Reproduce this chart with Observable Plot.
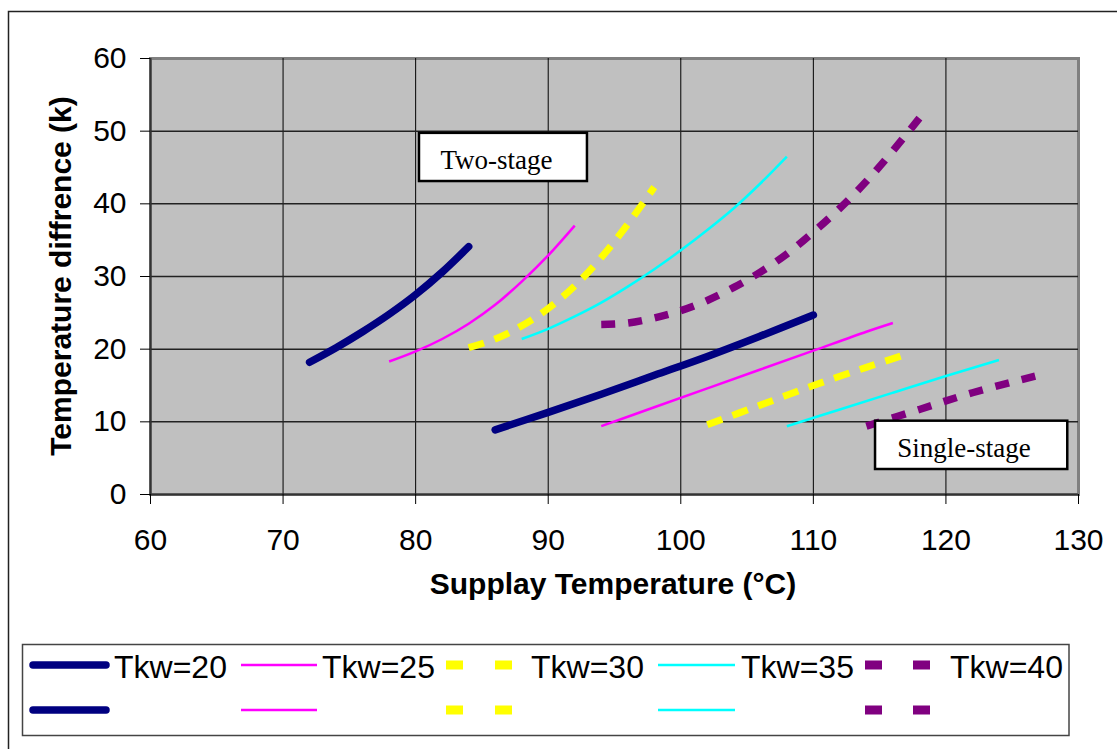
<!DOCTYPE html>
<html><head><meta charset="utf-8">
<script src="https://cdn.jsdelivr.net/npm/d3@7"></script>
<script src="https://cdn.jsdelivr.net/npm/@observablehq/plot@0.6"></script>
<style>
html,body{margin:0;padding:0;background:#fff;}
#wrap{position:relative;width:1117px;height:749px;overflow:hidden;background:#fff;}
#chart{position:absolute;left:0;top:0;}
#overlay{position:absolute;left:0;top:0;}
</style></head>
<body><div id="wrap"><div id="chart"></div><svg id="overlay" width="1117" height="749"></svg></div>
<script>
// ---- data ----
const xTicks = [60, 70, 80, 90, 100, 110, 120, 130];
const yTicks = [0, 10, 20, 30, 40, 50, 60];
const seriesNames = ["Tkw=20", "Tkw=25", "Tkw=30", "Tkw=35", "Tkw=40"];
const stageLabels = ["Two-stage", "Single-stage"];
const xTitle = "Supplay Temperature (°C)";
const yTitle = "Temperature diffrence (k)";

// Two-stage curves
const twoT20x = [72, 74, 76, 78, 80, 82, 84];
const twoT20y = [18.2, 20.2, 22.4, 24.8, 27.5, 30.6, 34.1];
const twoT25x = [78, 80, 82, 84, 86, 88, 90, 92];
const twoT25y = [18.3, 19.7, 21.4, 23.5, 26.1, 29.3, 32.9, 37.0];
const twoT30x = [84, 86, 88, 90, 92, 94, 96, 98];
const twoT30y = [20.2, 21.4, 23.2, 25.6, 28.7, 32.6, 37.2, 42.3];
const twoT35x = [88, 90, 92, 94, 96, 98, 100, 102, 104, 106, 108];
const twoT35y = [21.4, 22.8, 24.5, 26.4, 28.6, 31.0, 33.6, 36.4, 39.4, 42.8, 46.5];
const twoT40x = [94, 96, 98, 100, 102, 104, 106, 108, 110, 112, 114, 116, 118];
const twoT40y = [23.4, 23.6, 24.3, 25.3, 26.7, 28.5, 30.6, 33.1, 36.1, 39.4, 43.1, 47.3, 51.8];

// Single-stage curves
const oneT20x = [86, 90, 94, 98, 102, 106, 110];
const oneT20y = [8.9, 11.3, 13.8, 16.4, 19.0, 21.8, 24.7];
const oneT25x = [94, 98, 102, 106, 110, 114, 116];
const oneT25y = [9.4, 12.0, 14.6, 17.2, 19.8, 22.4, 23.6];
const oneT30x = [102, 106, 110, 114, 117];
const oneT30y = [9.6, 12.3, 15.0, 17.5, 19.3];
const oneT35x = [108, 112, 116, 120, 124];
const oneT35y = [9.4, 11.7, 14.0, 16.3, 18.5];
const oneT40x = [114, 118, 122, 127];
const oneT40y = [9.4, 11.7, 14.0, 16.4];

// ---- styles (kept apart from data) ----
const styles = {
  "Tkw=20": {color: "#000080", width: 7.5, dash: null, cap: "round"},
  "Tkw=25": {color: "#FF00FF", width: 2.5, dash: null, cap: "butt"},
  "Tkw=30": {color: "#FFFF00", width: 7, dash: "16,11", cap: "butt"},
  "Tkw=35": {color: "#00FFFF", width: 2.5, dash: null, cap: "butt"},
  "Tkw=40": {color: "#800080", width: 7.5, dash: "14,13", cap: "butt"}
};

const rows = [];
function add(series, stage, xs, ys) { xs.forEach((x, i) => rows.push({series, stage, x, y: ys[i]})); }
add("Tkw=20", "two", twoT20x, twoT20y);
add("Tkw=25", "two", twoT25x, twoT25y);
add("Tkw=30", "two", twoT30x, twoT30y);
add("Tkw=35", "two", twoT35x, twoT35y);
add("Tkw=40", "two", twoT40x, twoT40y);
add("Tkw=20", "one", oneT20x, oneT20y);
add("Tkw=25", "one", oneT25x, oneT25y);
add("Tkw=30", "one", oneT30x, oneT30y);
add("Tkw=35", "one", oneT35x, oneT35y);
add("Tkw=40", "one", oneT40x, oneT40y);

const lineMarks = seriesNames.map(name => {
  const s = styles[name];
  return Plot.line(rows.filter(d => d.series === name), {
    x: "x", y: "y", z: "stage", stroke: s.color, strokeWidth: s.width,
    strokeDasharray: s.dash, strokeLinecap: s.cap, strokeLinejoin: "round", curve: "catmull-rom"
  });
});

const boxes = [
  {label: stageLabels[0], x1: 80.29, x2: 92.96, y1: 43.07, y2: 49.7, tx: 81.87, ty: 44.8},
  {label: stageLabels[1], x1: 114.69, x2: 129.19, y1: 3.44, y2: 10.09, tx: 116.33, ty: 5.2}
];

const chart = Plot.plot({
  width: 1117, height: 620,
  marginLeft: 150, marginRight: 39, marginTop: 58, marginBottom: 126,
  style: {fontFamily: "'Liberation Sans', Arial, sans-serif", fontSize: "30px", color: "#000", background: "transparent"},
  x: {domain: [60, 130]},
  y: {domain: [0, 60]},
  marks: [
    Plot.frame({fill: "#C0C0C0", stroke: "#808080", strokeWidth: 3}),
    Plot.gridX(xTicks.slice(1, -1), {stroke: "#000", strokeOpacity: 1, strokeWidth: 1}),
    Plot.gridY(yTicks.slice(1, -1), {stroke: "#222", strokeOpacity: 1, strokeWidth: 1.5}),
    Plot.ruleX([60], {stroke: "#333", strokeWidth: 2}),
    Plot.ruleY([0], {stroke: "#333", strokeWidth: 2}),
    Plot.axisX(xTicks, {tickSize: 10, tickPadding: 24, label: null, fontSize: 30, stroke: "#000"}),
    Plot.axisY(yTicks, {tickSize: 10, tickPadding: 14, label: null, fontSize: 30, stroke: "#000"}),
    ...lineMarks,
    Plot.rect(boxes, {x1: "x1", x2: "x2", y1: "y1", y2: "y2", fill: "white", stroke: "#000", strokeWidth: 2.5}),
    Plot.text(boxes, {x: "tx", y: "ty", text: "label", textAnchor: "start", lineAnchor: "bottom",
      fontFamily: "'Liberation Serif', 'Times New Roman', serif", fontSize: 27, fill: "#000"})
  ]
});
document.getElementById("chart").appendChild(chart);

// ---- overlay: titles, legend, outer border ----
const ov = d3.select("#overlay");
ov.append("text").attr("x", 613).attr("y", 594).attr("text-anchor", "middle")
  .attr("font-family", "'Liberation Sans', Arial, sans-serif").attr("font-weight", "bold").attr("font-size", 30)
  .text(xTitle);
ov.append("text").attr("transform", "translate(71,276) rotate(-90)").attr("text-anchor", "middle")
  .attr("font-family", "'Liberation Sans', Arial, sans-serif").attr("font-weight", "bold").attr("font-size", 30)
  .text(yTitle);

// legend
ov.append("rect").attr("x", 22.5).attr("y", 644.5).attr("width", 1046.5).attr("height", 91)
  .attr("fill", "white").attr("stroke", "#444").attr("stroke-width", 1.5);
const legendCols = [
  {swatch: [29, 110], text: 114},
  {swatch: [241, 317], text: 322},
  {swatch: [446, 512], text: 531},
  {swatch: [658, 735], text: 741},
  {swatch: [865, 930], text: 950}
];
const rowY = [665, 710];
seriesNames.forEach((name, i) => {
  const s = styles[name], c = legendCols[i];
  rowY.forEach(yy => {
    if (s.dash) {
      const w = 17;
      ov.append("rect").attr("x", c.swatch[0]).attr("y", yy - 4.5).attr("width", w).attr("height", 9).attr("fill", s.color);
      ov.append("rect").attr("x", c.swatch[1] - w).attr("y", yy - 4.5).attr("width", w).attr("height", 9).attr("fill", s.color);
    } else {
      ov.append("line").attr("x1", c.swatch[0] + (s.cap === "round" ? 4 : 0)).attr("x2", c.swatch[1] - (s.cap === "round" ? 4 : 0))
        .attr("y1", yy).attr("y2", yy).attr("stroke", s.color).attr("stroke-width", s.width)
        .attr("stroke-linecap", s.cap);
    }
  });
  ov.append("text").attr("x", c.text).attr("y", 678).attr("font-family", "'Liberation Sans', Arial, sans-serif")
    .attr("font-size", 32).text(name);
});

// outer chart border (extends past right/bottom edges)
ov.append("path").attr("d", "M8.5,749 L8.5,11.5 L1117,11.5").attr("fill", "none").attr("stroke", "#222").attr("stroke-width", 1.5);
</script>
</body></html>
